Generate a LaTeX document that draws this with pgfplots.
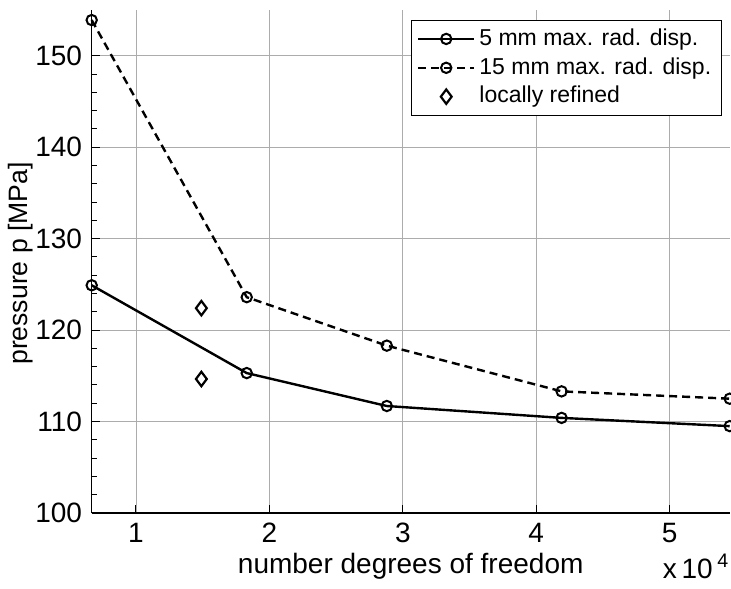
\documentclass[border=0pt]{standalone}
\usepackage{fontspec}
\setmainfont{Liberation Sans}
\usepackage{pgfplots}
\pgfplotsset{compat=1.18}
\begin{document}
\fontsize{14}{16.5}\selectfont
\begin{tikzpicture}
\begin{axis}[
  scale only axis,
  width=319pt, height=251.5pt,
  xmin=0.668, xmax=5.45,
  ymin=100, ymax=155,
  xtick={1,2,3,4,5},
  ytick={100,110,120,130,140,150},
  minor y tick num=4,
  tick align=inside,
  major tick length=4pt,
  minor tick length=2.5pt,
  grid=major,
  major grid style={gray!65, line width=0.45pt},
  axis line style={line width=0.6pt},
  tick style={line width=0.5pt, black},
  axis x line*=bottom,
  axis y line*=left,
  /pgf/number format/assume math mode=true,
  ticklabel style={font=\fontsize{14}{16.5}\selectfont},
  yticklabel style={xshift=0pt},
  label style={font=\fontsize{14}{16.5}\selectfont},
  xlabel={number degrees of freedom},
  ylabel={pressure p [MPa]},
  xlabel style={yshift=4pt},
  every axis y label/.style={at={([xshift=-35.5pt,yshift=-1pt]rel axis cs:0,0.5)}, rotate=90, anchor=center, font=\fontsize{13.3}{16}\selectfont},
  legend cell align=left,
  legend style={at={(rel axis cs:1,1)}, anchor=north east, xshift=-4pt, yshift=-5pt,
    draw=black, line width=0.5pt, fill=white, font=\fontsize{11.5}{13}\selectfont,
    inner xsep=3pt, inner ysep=2pt, row sep=0pt},
  clip=false,
]
\addplot[black, line width=1.2pt, mark=o, mark size=2.6pt, mark options={solid, line width=1pt},
  legend image code/.code={\draw[mark repeat=2, mark phase=2] plot coordinates {(0pt,0pt) (14pt,0pt) (28pt,0pt)};}]
  coordinates {(0.668,124.9) (1.83,115.3) (2.88,111.7) (4.19,110.4) (5.45,109.5)};
\addlegendentry{5 mm max. rad. disp.}
\addplot[black, line width=1.2pt, dash pattern=on 4pt off 2.5pt, mark=o, mark size=2.6pt, mark options={solid, line width=1pt},
  legend image code/.code={\draw[mark repeat=2, mark phase=2] plot coordinates {(0pt,0pt) (14pt,0pt) (28pt,0pt)};}]
  coordinates {(0.668,153.9) (1.83,123.6) (2.88,118.3) (4.19,113.3) (5.45,112.5)};
\addlegendentry{15 mm max. rad. disp.}
\addplot[black, only marks, mark=diamond, mark size=3.6pt, mark options={line width=1.1pt},
  legend image code/.code={\draw plot coordinates {(14pt,0pt)};}]
  coordinates {(1.49,122.4) (1.49,114.65)};
\addlegendentry{locally refined}
\node[anchor=base east, inner sep=0pt, font=\fontsize{14}{16.5}\selectfont] at ([yshift=-32.5pt]rel axis cs:1,0) {x\,10\,$^{\mathrm{4}}$};
\end{axis}
\pgfresetboundingbox
\path (-45.85pt,-37.65pt) rectangle (319.65pt,256.5pt);
\end{tikzpicture}
\end{document}
